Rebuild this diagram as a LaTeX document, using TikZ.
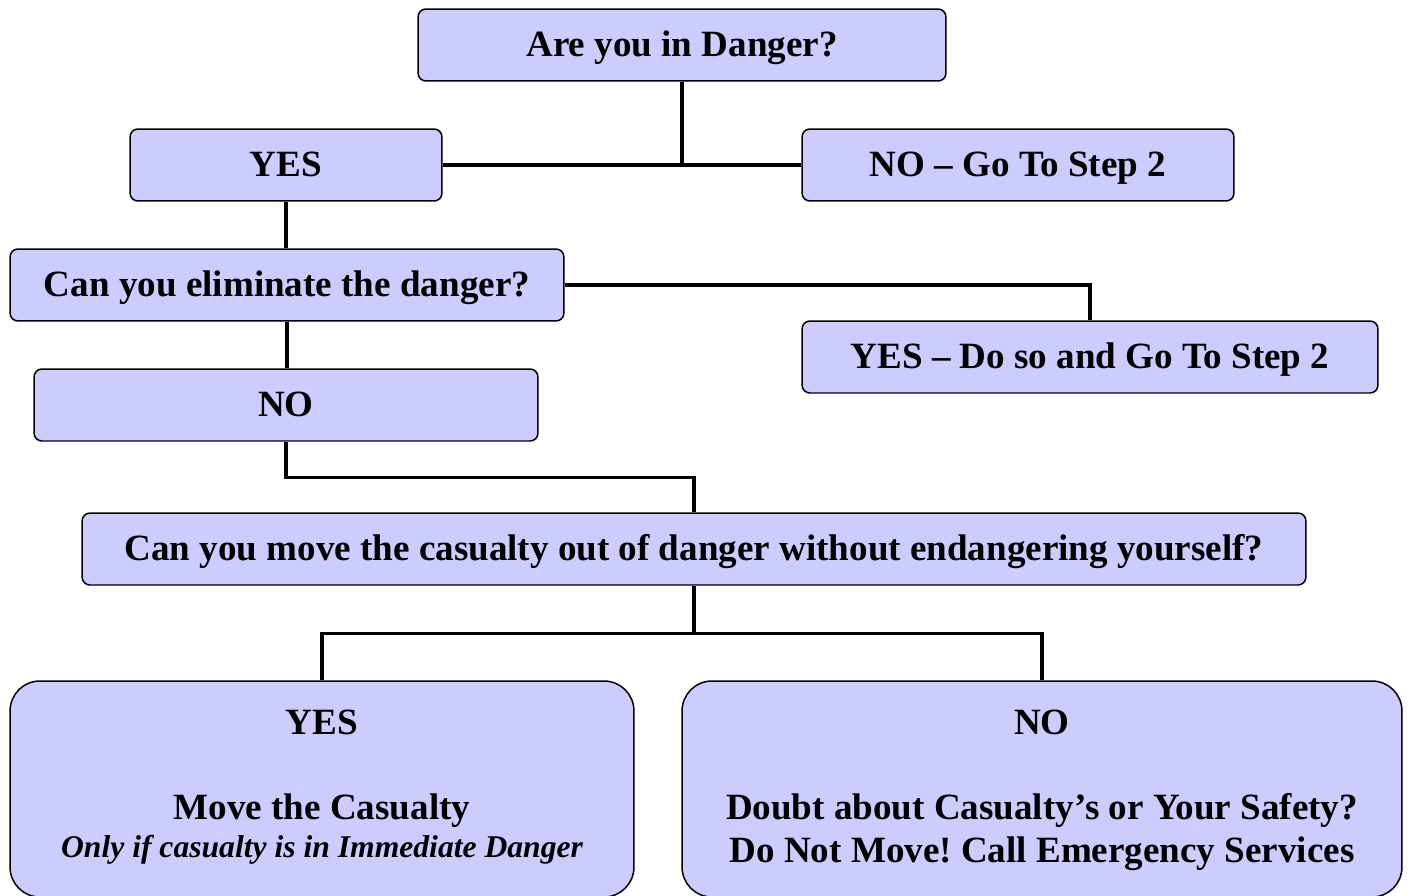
\documentclass[tikz,border=0pt]{standalone}
\usepackage{fontspec}
\setmainfont{Liberation Serif}
\usetikzlibrary{positioning}
\definecolor{boxfill}{HTML}{CCCCFF}
\frenchspacing
\begin{document}
\begin{tikzpicture}[x=0.02cm,y=-0.02cm,
  box/.style={draw=black,line width=0.85pt,fill=boxfill,rounded corners=4.5pt,inner sep=0pt,
    minimum height=1.44cm,text height=15pt,text depth=2pt,font=\fontsize{21.1}{25}\selectfont\bfseries},
  bigbox/.style={box,rounded corners=17pt,minimum height=4.32cm},
  boxtext/.style={inner sep=0pt,anchor=base,font=\fontsize{21.1}{25}\selectfont\bfseries},
  notetext/.style={inner sep=0pt,anchor=base,font=\fontsize{18}{22}\selectfont\bfseries\itshape},
  link/.style={line width=1.9pt}]
\useasboundingbox (0,0) rectangle (1408,895);

% question boxes
\node[box,minimum width=10.56cm] (danger) at (682,45) {Are you in Danger?};
\node[box,minimum width=6.24cm] (yesdanger) at (286,165) {YES};
\node[box,minimum width=8.64cm] (nodanger) at (1018,165) {NO -- Go To Step 2};
\node[box,minimum width=11.08cm] (eliminate) at (287,285) {Can you eliminate the danger?};
\node[box,minimum width=11.52cm] (yeseliminate) at (1090,357) {YES -- Do so and Go To Step 2};
\node[box,minimum width=10.08cm] (noeliminate) at (286,405) {NO};
\node[box,minimum width=24.48cm] (move) at (694,549) {Can you move the casualty out of danger without endangering yourself?};

% answer boxes
\node[bigbox,minimum width=12.48cm] (yesmove) at (322,789) {};
\node[bigbox,minimum width=14.4cm] (nomove) at (1042,789) {};
\node[boxtext] (yesmovehead) at (322,734) {YES};
\node[boxtext] (yesmoveline) at (322,819) {Move the Casualty};
\node[notetext] (yesmovenote) at (322,857) {Only if casualty is in Immediate Danger};
\node[boxtext] (nomovehead) at (1042,734) {NO};
\node[boxtext] (nomoveline) at (1042,819) {Doubt about Casualty’s or Your Safety?};
\node[boxtext] (nomovenote) at (1042,862) {Do Not Move! Call Emergency Services};

% connectors
\draw[link] (danger.south) -- (danger.south |- yesdanger.east);
\draw[link] (yesdanger.east) -- (nodanger.west);
\draw[link] (yesdanger.south) -- (yesdanger.south |- eliminate.north);
\draw[link] (eliminate.east) -| (yeseliminate.north);
\draw[link] (eliminate.south) -- (eliminate.south |- noeliminate.north);
\draw[link] (noeliminate.south) -- ++(0,36) -| (move.north);
\draw[link] (move.south) -- ++(0,48) coordinate (split);
\draw[link] (yesmove.north) |- (split) -| (nomove.north);
\end{tikzpicture}
\end{document}
